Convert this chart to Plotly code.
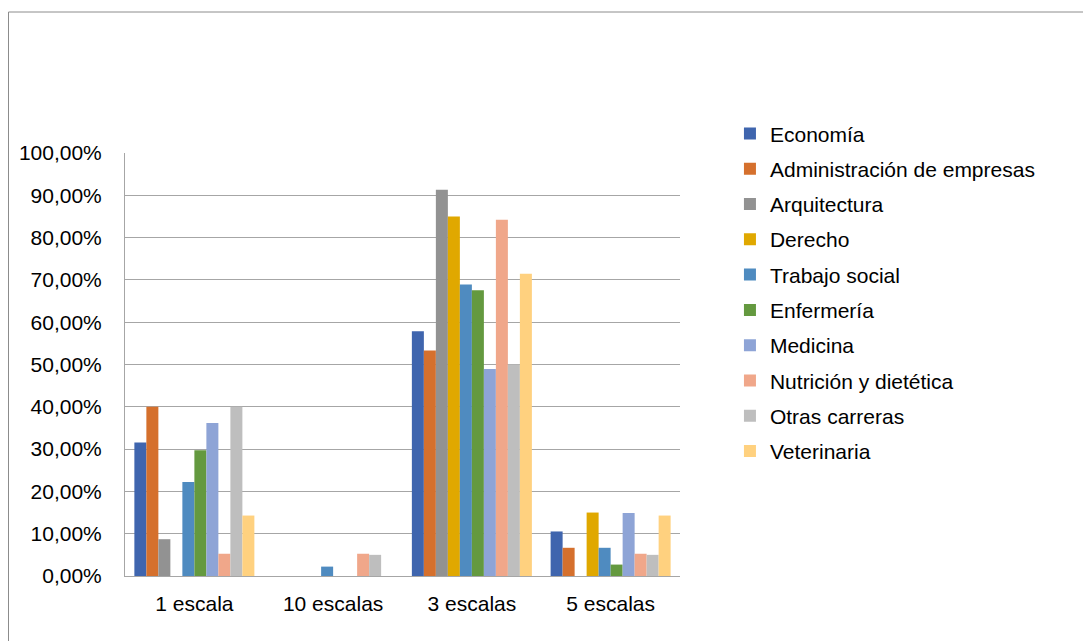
import plotly.graph_objects as go

categories = ["1 escala", "10 escalas", "3 escalas", "5 escalas"]
series_names = ["Economía", "Administración de empresas", "Arquitectura", "Derecho",
                "Trabajo social", "Enfermería", "Medicina", "Nutrición y dietética",
                "Otras carreras", "Veterinaria"]
economia = [0.3158, 0.0, 0.5789, 0.1053]
administracion = [0.40, 0.0, 0.5333, 0.0667]
arquitectura = [0.087, 0.0, 0.913, 0.0]
derecho = [0.0, 0.0, 0.85, 0.15]
trabajo_social = [0.2222, 0.0222, 0.6889, 0.0667]
enfermeria = [0.2973, 0.0, 0.6757, 0.027]
medicina = [0.3617, 0.0, 0.4894, 0.1489]
nutricion = [0.0526, 0.0526, 0.8421, 0.0526]
otras = [0.40, 0.05, 0.50, 0.05]
veterinaria = [0.1429, 0.0, 0.7143, 0.1429]
series_values = [economia, administracion, arquitectura, derecho, trabajo_social,
                 enfermeria, medicina, nutricion, otras, veterinaria]
colors = ["#3F65AE", "#D5702D", "#929292", "#E0A800", "#4F8BC0",
          "#64993F", "#8EA4D6", "#F0A78A", "#BEBEBE", "#FFD17F"]

fig = go.Figure()
for i, (name, vals, col) in enumerate(zip(series_names, series_values, colors)):
    fig.add_trace(go.Bar(x=categories, y=vals, name=name, marker_color=col,
                         marker_line_width=0, legendgroup=f"g{i}"))

fig.update_layout(
    width=1083, height=633,
    margin=dict(l=117, r=411, t=145, b=65, autoexpand=False),
    paper_bgcolor="white", plot_bgcolor="white",
    separators=",.",
    barmode="group", bargap=0.135, bargroupgap=0,
    font=dict(family="Liberation Sans, Arial, sans-serif", size=21, color="#000000"),
    xaxis=dict(showline=True, linecolor="#A6A6A6", linewidth=1, ticks="",
               tickfont=dict(size=21), showgrid=False, ticklabelstandoff=9),
    yaxis=dict(range=[0, 1], dtick=0.1, tickformat=".2%", showgrid=True,
               gridcolor="#A6A6A6", gridwidth=1, showline=True, linecolor="#A6A6A6",
               ticks="", zeroline=False, tickfont=dict(size=21), ticklabelstandoff=18),
    legend=dict(x=1.09, xanchor="left", y=1.094, yanchor="top",
                font=dict(size=21), traceorder="grouped", tracegroupgap=5,
                itemwidth=30, bgcolor="rgba(0,0,0,0)", maxheight=560),
    shapes=[dict(type="rect", xref="paper", yref="paper",
                 x0=-0.2099, x1=2.5, y0=-1, y1=1.3333,
                 line=dict(color="#8C8C8C", width=1), fillcolor="rgba(0,0,0,0)")],
)

fig.write_html("out.html")
